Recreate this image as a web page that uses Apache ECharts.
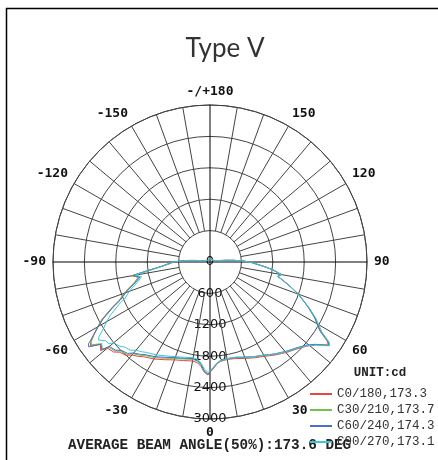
<!DOCTYPE html>
<html><head><meta charset="utf-8">
<script src="https://cdn.jsdelivr.net/npm/echarts@6/dist/echarts.min.js"></script>
<style>html,body{margin:0;padding:0;background:#fff}#c{width:438px;height:460px}</style>
</head><body><div id="c"></div>
<script>
// gamma angles (deg, 0 = nadir/bottom, negative to the left)
const angles = [-180,-150,-120,-110,-100,-96,-94,-92,-90,-88,-85,-82,-80,-78,-75,-72,-70,-67,-65,-62,-60,-58,-56,-55,-53,-51,-50,-47,-45,-42,-40,-37,-35,-30,-25,-20,-15,-10,-7,-5,-3,-1,0,2,4,6,10,15,20,25,30,35,38,40,45,49,52,54,55,56,58,60,62,65,68,70,73,75,78,80,81,83,85,88,90,92,94,96,100,110,120,150,180];
const c0 = [60,60,60,70,150,290,430,570,710,780,930,1230,1520,1400,1490,1640,1740,1890,2070,2340,2480,2620,2750,2790,2620,2690,2560,2520,2440,2400,2320,2260,2210,2140,2060,1990,1950,1920,1940,2000,2110,2160,2110,2030,1950,1910,1890,1910,1960,2020,2080,2170,2220,2260,2350,2450,2570,2690,2760,2700,2470,2360,2270,2090,1910,1800,1610,1490,1330,1390,1410,1210,1060,860,770,610,460,310,160,80,60,60,60];
const c30 = [55,55,55,65,140,280,420,560,700,770,920,1210,1510,1390,1480,1630,1730,1880,2060,2330,2480,2610,2740,2760,2590,2650,2530,2490,2410,2370,2290,2230,2180,2110,2030,1960,1920,1890,1910,1970,2090,2150,2100,2020,1940,1900,1880,1890,1940,2000,2060,2150,2200,2240,2330,2430,2560,2700,2770,2720,2480,2360,2260,2080,1900,1790,1600,1480,1320,1380,1400,1200,1050,850,760,600,450,300,150,80,55,55,55];
const c60 = [50,50,55,65,135,270,410,550,690,760,910,1190,1490,1370,1460,1610,1710,1860,2040,2310,2460,2620,2800,2830,2610,2660,2510,2470,2390,2350,2270,2210,2160,2090,2010,1945,1905,1875,1905,1965,2085,2145,2095,2015,1935,1895,1875,1885,1935,1995,2055,2145,2195,2235,2325,2425,2555,2710,2780,2730,2490,2370,2270,2085,1905,1795,1605,1485,1325,1385,1405,1205,1055,855,765,605,455,305,155,80,55,50,50];
const c90 = [60,60,60,70,140,280,420,560,700,760,900,1170,1450,1340,1420,1550,1640,1760,1920,2150,2280,2400,2560,2600,2500,2480,2400,2360,2300,2270,2200,2150,2110,2050,1980,1925,1885,1855,1880,1940,2050,2110,2080,2010,1935,1895,1875,1885,1935,1995,2055,2150,2200,2245,2340,2440,2580,2720,2790,2750,2520,2400,2290,2100,1910,1800,1610,1490,1330,1390,1410,1210,1060,860,770,610,460,310,160,85,60,60,60];
const seriesNames = ['C0/180,173.3','C30/210,173.7','C60/240,174.3','C90/270,173.1'];
const seriesColors = ['#e8463f','#72c24c','#4d6fc6','#3ec5d6'];
const spokeAngles = [0,10,20,30,40,50,60,70,80,90,100,110,120,130,140,150,160,170,180,190,200,210,220,230,240,250,260,270,280,290,300,310,320,330,340,350];
const radialMax = 3000, radialStep = 600, spokeInner = 600;

const toAxis = a => (a < 0 ? a + 360 : a);
const allVals = [c0, c30, c60, c90];

const chart = echarts.init(document.getElementById('c'), null, {renderer: 'canvas'});

const lineSeries = allVals.map((vals, i) => ({
  type: 'line', name: seriesNames[i], coordinateSystem: 'polar',
  data: angles.map((a, j) => [vals[j], toAxis(a)]),
  showSymbol: false, symbol: 'none', smooth: false,
  lineStyle: {color: seriesColors[i], width: 1},
  itemStyle: {color: seriesColors[i]},
  animation: false, z: 3
}));

const gridSeries = {
  type: 'custom', coordinateSystem: 'polar', silent: true, animation: false, z: 1,
  data: spokeAngles.map(a => [radialMax, a]),
  renderItem: function (params, api) {
    const a = api.value(1);
    if (a % 90 === 0) {
      if (a >= 180) return null;
      const p1 = api.coord([radialMax, a]);
      const p2 = api.coord([radialMax, a + 180]);
      return {type: 'line', shape: {x1: p1[0], y1: p1[1], x2: p2[0], y2: p2[1]}, style: {stroke: '#000', lineWidth: 1}};
    }
    const p1 = api.coord([spokeInner, a]);
    const p2 = api.coord([radialMax, a]);
    return {type: 'line', shape: {x1: p1[0], y1: p1[1], x2: p2[0], y2: p2[1]}, style: {stroke: '#444', lineWidth: 1}};
  }
};

chart.setOption({
  animation: false,
  backgroundColor: '#fff',
  polar: {center: [210, 262], radius: 157},
  angleAxis: {
    type: 'value', min: 0, max: 360, interval: 10, startAngle: 270, clockwise: false,
    axisLine: {show: true, lineStyle: {color: '#444', width: 1}},
    axisTick: {show: false},
    splitLine: {show: false},
    axisLabel: {
      show: true, margin: 7, color: '#111', fontFamily: 'DejaVu Sans Mono', fontWeight: 'bold', fontSize: 13,
      formatter: function (v) {
        if (v % 30 !== 0 || v === 360) return '';
        if (v === 180) return '-/+180';
        return v > 180 ? String(v - 360) : String(v);
      }
    }
  },
  radiusAxis: {
    type: 'value', min: 0, max: radialMax, interval: radialStep,
    axisLine: {show: false}, axisTick: {show: false},
    splitLine: {show: true, lineStyle: {color: '#444', width: 1}},
    axisLabel: {
      show: true, margin: 0, align: 'center', verticalAlign: 'middle', padding: [0, 0, 7, 0],
      color: '#111', fontFamily: 'DejaVu Sans', fontSize: 13, showMinLabel: true, showMaxLabel: true,
      formatter: function (v) { return String(v); }
    }
  },
  legend: {
    show: true, data: seriesNames, orient: 'vertical', left: 305, top: 381,
    itemWidth: 22, itemHeight: 2, itemGap: 0, icon: 'rect',
    textStyle: {fontFamily: 'Liberation Mono', fontSize: 12.5, color: '#333', lineHeight: 16}
  },
  graphic: [
    {type: 'rect', silent: true, shape: {x: 6.5, y: 8.5, width: 600, height: 600}, style: {fill: 'none', stroke: '#000', lineWidth: 1.5}},
    {type: 'text', silent: true, x: 225, y: 49, style: {text: 'Type V', font: '26px Lato', fill: '#333', align: 'center', verticalAlign: 'middle'}},
    {type: 'text', silent: true, x: 380, y: 373, style: {text: 'UNIT:cd', font: 'bold 12.5px "Liberation Mono"', fill: '#222', align: 'center', verticalAlign: 'middle'}},
    {type: 'text', silent: true, x: 68, y: 445, style: {text: 'AVERAGE BEAM ANGLE(50%):173.6 DEG', font: 'bold 14.3px "Liberation Mono"', fill: '#222', align: 'left', verticalAlign: 'middle'}}
  ],
  series: [gridSeries].concat(lineSeries)
});
</script>
</body></html>
